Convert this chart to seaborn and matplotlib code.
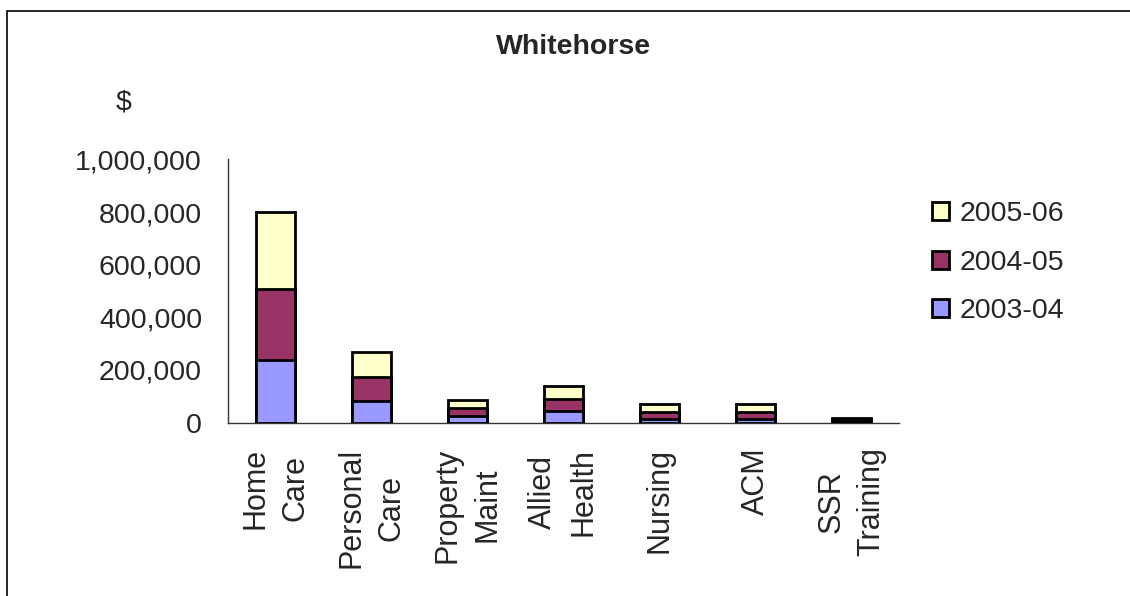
import matplotlib
matplotlib.use("Agg")
import matplotlib.pyplot as plt
import seaborn as sns
import pandas as pd
import numpy as np
from matplotlib.patches import Patch, Rectangle
from matplotlib.ticker import FuncFormatter

sns.set_style("white")
plt.rcParams["font.family"] = ["Liberation Sans", "DejaVu Sans"]

# -----------------------------------------------------------------
# Data
# -----------------------------------------------------------------
categories = ["Home\nCare", "Personal\nCare", "Property\nMaint", "Allied\nHealth",
              "Nursing", "ACM", "SSR\nTraining"]
fy_2003_04 = [238000, 83000, 25000, 43000, 14000, 14000, 5000]
fy_2004_05 = [268000, 92000, 31000, 47000, 28000, 28000, 5000]
fy_2005_06 = [293000, 93000, 29000, 49000, 29000, 29000, 6000]
series_names = ["2003-04", "2004-05", "2005-06"]
colors = {"2003-04": "#9999FF", "2004-05": "#993366", "2005-06": "#FFFFCC"}
y_ticks = [0, 200000, 400000, 600000, 800000, 1000000]

df = pd.DataFrame({"category": categories,
                   "2003-04": fy_2003_04,
                   "2004-05": fy_2004_05,
                   "2005-06": fy_2005_06})
# cumulative heights for stacking (draw tallest first)
df["c1"] = df["2003-04"]
df["c2"] = df["c1"] + df["2004-05"]
df["c3"] = df["c2"] + df["2005-06"]

fig = plt.figure(figsize=(11.3, 5.96), dpi=100)
ax = fig.add_axes([0.2015, 0.291, 0.5945, 0.4415])

for col, name in [("c3", "2005-06"), ("c2", "2004-05"), ("c1", "2003-04")]:
    sns.barplot(data=df, x="category", y=col, color=colors[name], width=0.4,
                edgecolor="black", linewidth=2.0, saturation=1, ax=ax, zorder=3)

ax.set_xlim(-0.5, len(categories) - 0.5)
ax.set_ylim(0, 1000000)
ax.set_yticks(y_ticks)
ax.yaxis.set_major_formatter(FuncFormatter(lambda v, p: f"{int(v):,}"))
ax.set_xlabel("")
ax.set_ylabel("")

# category labels + boundary ticks on x axis
ax.set_xticks(np.arange(len(categories)))
ax.set_xticklabels(categories, rotation=90, ha="center", va="top",
                   multialignment="center", fontsize=22, linespacing=1.45)
ax.tick_params(axis="x", length=0, pad=18)
ax.set_xticks(np.arange(len(categories) + 1) - 0.5, minor=True)
ax.tick_params(axis="x", which="minor", length=6.5, width=1, color="#333333",
               direction="out")
ax.tick_params(axis="y", length=6.5, width=1, color="#333333", direction="out",
               labelsize=20.5, pad=12)

for s in ["top", "right"]:
    ax.spines[s].set_visible(False)
for s in ["left", "bottom"]:
    ax.spines[s].set_color("#333333")
    ax.spines[s].set_linewidth(1)

fig.text(0.5075, 0.921, "Whitehorse", ha="center", va="center",
         fontsize=20.5, fontweight="bold")
fig.text(0.109, 0.828, "$", ha="center", va="center", fontsize=20.5)

handles = [Patch(facecolor=colors[n], edgecolor="black", linewidth=2) for n in reversed(series_names)]
fig.legend(handles, list(reversed(series_names)), loc="upper left",
           bbox_to_anchor=(0.815, 0.682), frameon=False, fontsize=20.5,
           handlelength=0.6, handleheight=0.6, handletextpad=0.35,
           labelspacing=0.8, borderaxespad=0)

# outer chart border (only top/left edges visible in the reference)
fig.patches.append(Rectangle((7 / 1130, -0.05), 1.2, 1 - 11 / 596 + 0.05,
                             transform=fig.transFigure, fill=False,
                             edgecolor="black", linewidth=1.2))

fig.savefig("out.png", dpi=100)
